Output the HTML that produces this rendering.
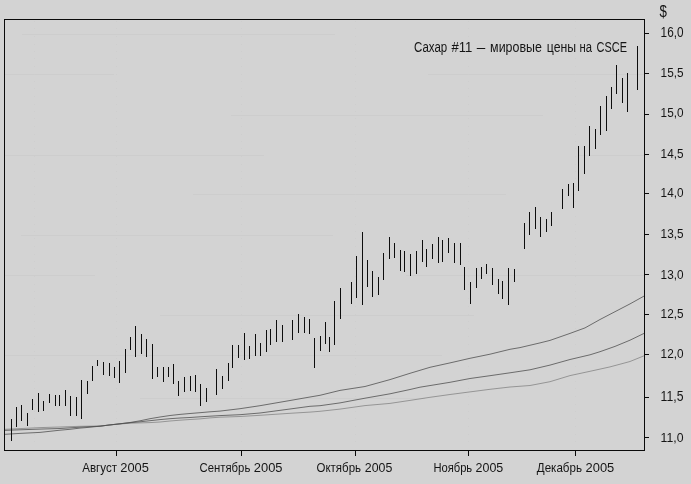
<!DOCTYPE html>
<html><head><meta charset="utf-8"><title>chart</title>
<style>
html,body{margin:0;padding:0;background:#d3d3d3;}
body{width:691px;height:484px;overflow:hidden;}
svg{display:block;font-family:"Liberation Sans",sans-serif;will-change:transform;}
</style></head><body>
<svg width="691" height="484" viewBox="0 0 691 484">
<rect x="0" y="0" width="691" height="484" fill="#d3d3d3"/>
<g fill="#cdcdcd" shape-rendering="crispEdges">
<rect x="22" y="34" width="313" height="1"/>
<rect x="5" y="74" width="109" height="1"/>
<rect x="428" y="74" width="216" height="1"/>
<rect x="231" y="115" width="312" height="1"/>
<rect x="5" y="155" width="259" height="1"/>
<rect x="578" y="155" width="66" height="1"/>
<rect x="193" y="194" width="313" height="1"/>
<rect x="21" y="235" width="312" height="1"/>
<rect x="5" y="275" width="90" height="1"/>
<rect x="406" y="275" width="238" height="1"/>
<rect x="160" y="315" width="314" height="1"/>
<rect x="5" y="355" width="437" height="1"/>
<rect x="140" y="398" width="285" height="1"/>
</g>
<g fill="#cecece" shape-rendering="crispEdges">
<rect x="34" y="21" width="1" height="1"/>
<rect x="34" y="28" width="1" height="1"/>
<rect x="34" y="36" width="1" height="1"/>
<rect x="34" y="44" width="1" height="1"/>
<rect x="34" y="51" width="1" height="1"/>
<rect x="34" y="58" width="1" height="1"/>
<rect x="34" y="66" width="1" height="1"/>
<rect x="34" y="74" width="1" height="1"/>
<rect x="34" y="81" width="1" height="1"/>
<rect x="34" y="88" width="1" height="1"/>
<rect x="34" y="96" width="1" height="1"/>
<rect x="34" y="104" width="1" height="1"/>
<rect x="34" y="111" width="1" height="1"/>
<rect x="34" y="118" width="1" height="1"/>
<rect x="34" y="126" width="1" height="1"/>
<rect x="34" y="134" width="1" height="1"/>
<rect x="34" y="141" width="1" height="1"/>
<rect x="34" y="148" width="1" height="1"/>
<rect x="34" y="156" width="1" height="1"/>
<rect x="34" y="164" width="1" height="1"/>
<rect x="34" y="171" width="1" height="1"/>
<rect x="34" y="178" width="1" height="1"/>
<rect x="34" y="186" width="1" height="1"/>
<rect x="34" y="194" width="1" height="1"/>
<rect x="34" y="201" width="1" height="1"/>
<rect x="34" y="208" width="1" height="1"/>
<rect x="34" y="216" width="1" height="1"/>
<rect x="34" y="224" width="1" height="1"/>
<rect x="34" y="231" width="1" height="1"/>
<rect x="34" y="238" width="1" height="1"/>
<rect x="34" y="246" width="1" height="1"/>
<rect x="34" y="254" width="1" height="1"/>
<rect x="34" y="261" width="1" height="1"/>
<rect x="34" y="268" width="1" height="1"/>
<rect x="34" y="276" width="1" height="1"/>
<rect x="34" y="284" width="1" height="1"/>
<rect x="34" y="291" width="1" height="1"/>
<rect x="34" y="298" width="1" height="1"/>
<rect x="34" y="306" width="1" height="1"/>
<rect x="34" y="314" width="1" height="1"/>
<rect x="34" y="321" width="1" height="1"/>
<rect x="34" y="328" width="1" height="1"/>
<rect x="34" y="336" width="1" height="1"/>
<rect x="34" y="344" width="1" height="1"/>
<rect x="34" y="351" width="1" height="1"/>
<rect x="34" y="358" width="1" height="1"/>
<rect x="34" y="366" width="1" height="1"/>
<rect x="34" y="374" width="1" height="1"/>
<rect x="34" y="381" width="1" height="1"/>
<rect x="34" y="388" width="1" height="1"/>
<rect x="34" y="396" width="1" height="1"/>
<rect x="34" y="404" width="1" height="1"/>
<rect x="34" y="411" width="1" height="1"/>
<rect x="34" y="418" width="1" height="1"/>
<rect x="34" y="426" width="1" height="1"/>
<rect x="34" y="434" width="1" height="1"/>
<rect x="34" y="441" width="1" height="1"/>
<rect x="116" y="21" width="1" height="1"/>
<rect x="116" y="28" width="1" height="1"/>
<rect x="116" y="36" width="1" height="1"/>
<rect x="116" y="44" width="1" height="1"/>
<rect x="116" y="51" width="1" height="1"/>
<rect x="116" y="58" width="1" height="1"/>
<rect x="116" y="66" width="1" height="1"/>
<rect x="116" y="74" width="1" height="1"/>
<rect x="116" y="81" width="1" height="1"/>
<rect x="116" y="88" width="1" height="1"/>
<rect x="116" y="96" width="1" height="1"/>
<rect x="116" y="104" width="1" height="1"/>
<rect x="116" y="111" width="1" height="1"/>
<rect x="116" y="118" width="1" height="1"/>
<rect x="116" y="126" width="1" height="1"/>
<rect x="116" y="134" width="1" height="1"/>
<rect x="116" y="141" width="1" height="1"/>
<rect x="116" y="148" width="1" height="1"/>
<rect x="116" y="156" width="1" height="1"/>
<rect x="116" y="164" width="1" height="1"/>
<rect x="116" y="171" width="1" height="1"/>
<rect x="116" y="178" width="1" height="1"/>
<rect x="116" y="186" width="1" height="1"/>
<rect x="116" y="194" width="1" height="1"/>
<rect x="116" y="201" width="1" height="1"/>
<rect x="116" y="208" width="1" height="1"/>
<rect x="116" y="216" width="1" height="1"/>
<rect x="116" y="224" width="1" height="1"/>
<rect x="116" y="231" width="1" height="1"/>
<rect x="116" y="238" width="1" height="1"/>
<rect x="116" y="246" width="1" height="1"/>
<rect x="116" y="254" width="1" height="1"/>
<rect x="116" y="261" width="1" height="1"/>
<rect x="116" y="268" width="1" height="1"/>
<rect x="116" y="276" width="1" height="1"/>
<rect x="116" y="284" width="1" height="1"/>
<rect x="116" y="291" width="1" height="1"/>
<rect x="116" y="298" width="1" height="1"/>
<rect x="116" y="306" width="1" height="1"/>
<rect x="116" y="314" width="1" height="1"/>
<rect x="116" y="321" width="1" height="1"/>
<rect x="116" y="328" width="1" height="1"/>
<rect x="116" y="336" width="1" height="1"/>
<rect x="116" y="344" width="1" height="1"/>
<rect x="116" y="351" width="1" height="1"/>
<rect x="116" y="358" width="1" height="1"/>
<rect x="116" y="366" width="1" height="1"/>
<rect x="116" y="374" width="1" height="1"/>
<rect x="116" y="381" width="1" height="1"/>
<rect x="116" y="388" width="1" height="1"/>
<rect x="116" y="396" width="1" height="1"/>
<rect x="116" y="404" width="1" height="1"/>
<rect x="116" y="411" width="1" height="1"/>
<rect x="116" y="418" width="1" height="1"/>
<rect x="116" y="426" width="1" height="1"/>
<rect x="116" y="434" width="1" height="1"/>
<rect x="116" y="441" width="1" height="1"/>
<rect x="241" y="21" width="1" height="1"/>
<rect x="241" y="28" width="1" height="1"/>
<rect x="241" y="36" width="1" height="1"/>
<rect x="241" y="44" width="1" height="1"/>
<rect x="241" y="51" width="1" height="1"/>
<rect x="241" y="58" width="1" height="1"/>
<rect x="241" y="66" width="1" height="1"/>
<rect x="241" y="74" width="1" height="1"/>
<rect x="241" y="81" width="1" height="1"/>
<rect x="241" y="88" width="1" height="1"/>
<rect x="241" y="96" width="1" height="1"/>
<rect x="241" y="104" width="1" height="1"/>
<rect x="241" y="111" width="1" height="1"/>
<rect x="241" y="118" width="1" height="1"/>
<rect x="241" y="126" width="1" height="1"/>
<rect x="241" y="134" width="1" height="1"/>
<rect x="241" y="141" width="1" height="1"/>
<rect x="241" y="148" width="1" height="1"/>
<rect x="241" y="156" width="1" height="1"/>
<rect x="241" y="164" width="1" height="1"/>
<rect x="241" y="171" width="1" height="1"/>
<rect x="241" y="178" width="1" height="1"/>
<rect x="241" y="186" width="1" height="1"/>
<rect x="241" y="194" width="1" height="1"/>
<rect x="241" y="201" width="1" height="1"/>
<rect x="241" y="208" width="1" height="1"/>
<rect x="241" y="216" width="1" height="1"/>
<rect x="241" y="224" width="1" height="1"/>
<rect x="241" y="231" width="1" height="1"/>
<rect x="241" y="238" width="1" height="1"/>
<rect x="241" y="246" width="1" height="1"/>
<rect x="241" y="254" width="1" height="1"/>
<rect x="241" y="261" width="1" height="1"/>
<rect x="241" y="268" width="1" height="1"/>
<rect x="241" y="276" width="1" height="1"/>
<rect x="241" y="284" width="1" height="1"/>
<rect x="241" y="291" width="1" height="1"/>
<rect x="241" y="298" width="1" height="1"/>
<rect x="241" y="306" width="1" height="1"/>
<rect x="241" y="314" width="1" height="1"/>
<rect x="241" y="321" width="1" height="1"/>
<rect x="241" y="328" width="1" height="1"/>
<rect x="241" y="336" width="1" height="1"/>
<rect x="241" y="344" width="1" height="1"/>
<rect x="241" y="351" width="1" height="1"/>
<rect x="241" y="358" width="1" height="1"/>
<rect x="241" y="366" width="1" height="1"/>
<rect x="241" y="374" width="1" height="1"/>
<rect x="241" y="381" width="1" height="1"/>
<rect x="241" y="388" width="1" height="1"/>
<rect x="241" y="396" width="1" height="1"/>
<rect x="241" y="404" width="1" height="1"/>
<rect x="241" y="411" width="1" height="1"/>
<rect x="241" y="418" width="1" height="1"/>
<rect x="241" y="426" width="1" height="1"/>
<rect x="241" y="434" width="1" height="1"/>
<rect x="241" y="441" width="1" height="1"/>
<rect x="355" y="21" width="1" height="1"/>
<rect x="355" y="28" width="1" height="1"/>
<rect x="355" y="36" width="1" height="1"/>
<rect x="355" y="44" width="1" height="1"/>
<rect x="355" y="51" width="1" height="1"/>
<rect x="355" y="58" width="1" height="1"/>
<rect x="355" y="66" width="1" height="1"/>
<rect x="355" y="74" width="1" height="1"/>
<rect x="355" y="81" width="1" height="1"/>
<rect x="355" y="88" width="1" height="1"/>
<rect x="355" y="96" width="1" height="1"/>
<rect x="355" y="104" width="1" height="1"/>
<rect x="355" y="111" width="1" height="1"/>
<rect x="355" y="118" width="1" height="1"/>
<rect x="355" y="126" width="1" height="1"/>
<rect x="355" y="134" width="1" height="1"/>
<rect x="355" y="141" width="1" height="1"/>
<rect x="355" y="148" width="1" height="1"/>
<rect x="355" y="156" width="1" height="1"/>
<rect x="355" y="164" width="1" height="1"/>
<rect x="355" y="171" width="1" height="1"/>
<rect x="355" y="178" width="1" height="1"/>
<rect x="355" y="186" width="1" height="1"/>
<rect x="355" y="194" width="1" height="1"/>
<rect x="355" y="201" width="1" height="1"/>
<rect x="355" y="208" width="1" height="1"/>
<rect x="355" y="216" width="1" height="1"/>
<rect x="355" y="224" width="1" height="1"/>
<rect x="355" y="231" width="1" height="1"/>
<rect x="355" y="238" width="1" height="1"/>
<rect x="355" y="246" width="1" height="1"/>
<rect x="355" y="254" width="1" height="1"/>
<rect x="355" y="261" width="1" height="1"/>
<rect x="355" y="268" width="1" height="1"/>
<rect x="355" y="276" width="1" height="1"/>
<rect x="355" y="284" width="1" height="1"/>
<rect x="355" y="291" width="1" height="1"/>
<rect x="355" y="298" width="1" height="1"/>
<rect x="355" y="306" width="1" height="1"/>
<rect x="355" y="314" width="1" height="1"/>
<rect x="355" y="321" width="1" height="1"/>
<rect x="355" y="328" width="1" height="1"/>
<rect x="355" y="336" width="1" height="1"/>
<rect x="355" y="344" width="1" height="1"/>
<rect x="355" y="351" width="1" height="1"/>
<rect x="355" y="358" width="1" height="1"/>
<rect x="355" y="366" width="1" height="1"/>
<rect x="355" y="374" width="1" height="1"/>
<rect x="355" y="381" width="1" height="1"/>
<rect x="355" y="388" width="1" height="1"/>
<rect x="355" y="396" width="1" height="1"/>
<rect x="355" y="404" width="1" height="1"/>
<rect x="355" y="411" width="1" height="1"/>
<rect x="355" y="418" width="1" height="1"/>
<rect x="355" y="426" width="1" height="1"/>
<rect x="355" y="434" width="1" height="1"/>
<rect x="355" y="441" width="1" height="1"/>
<rect x="468" y="21" width="1" height="1"/>
<rect x="468" y="28" width="1" height="1"/>
<rect x="468" y="36" width="1" height="1"/>
<rect x="468" y="44" width="1" height="1"/>
<rect x="468" y="51" width="1" height="1"/>
<rect x="468" y="58" width="1" height="1"/>
<rect x="468" y="66" width="1" height="1"/>
<rect x="468" y="74" width="1" height="1"/>
<rect x="468" y="81" width="1" height="1"/>
<rect x="468" y="88" width="1" height="1"/>
<rect x="468" y="96" width="1" height="1"/>
<rect x="468" y="104" width="1" height="1"/>
<rect x="468" y="111" width="1" height="1"/>
<rect x="468" y="118" width="1" height="1"/>
<rect x="468" y="126" width="1" height="1"/>
<rect x="468" y="134" width="1" height="1"/>
<rect x="468" y="141" width="1" height="1"/>
<rect x="468" y="148" width="1" height="1"/>
<rect x="468" y="156" width="1" height="1"/>
<rect x="468" y="164" width="1" height="1"/>
<rect x="468" y="171" width="1" height="1"/>
<rect x="468" y="178" width="1" height="1"/>
<rect x="468" y="186" width="1" height="1"/>
<rect x="468" y="194" width="1" height="1"/>
<rect x="468" y="201" width="1" height="1"/>
<rect x="468" y="208" width="1" height="1"/>
<rect x="468" y="216" width="1" height="1"/>
<rect x="468" y="224" width="1" height="1"/>
<rect x="468" y="231" width="1" height="1"/>
<rect x="468" y="238" width="1" height="1"/>
<rect x="468" y="246" width="1" height="1"/>
<rect x="468" y="254" width="1" height="1"/>
<rect x="468" y="261" width="1" height="1"/>
<rect x="468" y="268" width="1" height="1"/>
<rect x="468" y="276" width="1" height="1"/>
<rect x="468" y="284" width="1" height="1"/>
<rect x="468" y="291" width="1" height="1"/>
<rect x="468" y="298" width="1" height="1"/>
<rect x="468" y="306" width="1" height="1"/>
<rect x="468" y="314" width="1" height="1"/>
<rect x="468" y="321" width="1" height="1"/>
<rect x="468" y="328" width="1" height="1"/>
<rect x="468" y="336" width="1" height="1"/>
<rect x="468" y="344" width="1" height="1"/>
<rect x="468" y="351" width="1" height="1"/>
<rect x="468" y="358" width="1" height="1"/>
<rect x="468" y="366" width="1" height="1"/>
<rect x="468" y="374" width="1" height="1"/>
<rect x="468" y="381" width="1" height="1"/>
<rect x="468" y="388" width="1" height="1"/>
<rect x="468" y="396" width="1" height="1"/>
<rect x="468" y="404" width="1" height="1"/>
<rect x="468" y="411" width="1" height="1"/>
<rect x="468" y="418" width="1" height="1"/>
<rect x="468" y="426" width="1" height="1"/>
<rect x="468" y="434" width="1" height="1"/>
<rect x="468" y="441" width="1" height="1"/>
<rect x="575" y="21" width="1" height="1"/>
<rect x="575" y="28" width="1" height="1"/>
<rect x="575" y="36" width="1" height="1"/>
<rect x="575" y="44" width="1" height="1"/>
<rect x="575" y="51" width="1" height="1"/>
<rect x="575" y="58" width="1" height="1"/>
<rect x="575" y="66" width="1" height="1"/>
<rect x="575" y="74" width="1" height="1"/>
<rect x="575" y="81" width="1" height="1"/>
<rect x="575" y="88" width="1" height="1"/>
<rect x="575" y="96" width="1" height="1"/>
<rect x="575" y="104" width="1" height="1"/>
<rect x="575" y="111" width="1" height="1"/>
<rect x="575" y="118" width="1" height="1"/>
<rect x="575" y="126" width="1" height="1"/>
<rect x="575" y="134" width="1" height="1"/>
<rect x="575" y="141" width="1" height="1"/>
<rect x="575" y="148" width="1" height="1"/>
<rect x="575" y="156" width="1" height="1"/>
<rect x="575" y="164" width="1" height="1"/>
<rect x="575" y="171" width="1" height="1"/>
<rect x="575" y="178" width="1" height="1"/>
<rect x="575" y="186" width="1" height="1"/>
<rect x="575" y="194" width="1" height="1"/>
<rect x="575" y="201" width="1" height="1"/>
<rect x="575" y="208" width="1" height="1"/>
<rect x="575" y="216" width="1" height="1"/>
<rect x="575" y="224" width="1" height="1"/>
<rect x="575" y="231" width="1" height="1"/>
<rect x="575" y="238" width="1" height="1"/>
<rect x="575" y="246" width="1" height="1"/>
<rect x="575" y="254" width="1" height="1"/>
<rect x="575" y="261" width="1" height="1"/>
<rect x="575" y="268" width="1" height="1"/>
<rect x="575" y="276" width="1" height="1"/>
<rect x="575" y="284" width="1" height="1"/>
<rect x="575" y="291" width="1" height="1"/>
<rect x="575" y="298" width="1" height="1"/>
<rect x="575" y="306" width="1" height="1"/>
<rect x="575" y="314" width="1" height="1"/>
<rect x="575" y="321" width="1" height="1"/>
<rect x="575" y="328" width="1" height="1"/>
<rect x="575" y="336" width="1" height="1"/>
<rect x="575" y="344" width="1" height="1"/>
<rect x="575" y="351" width="1" height="1"/>
<rect x="575" y="358" width="1" height="1"/>
<rect x="575" y="366" width="1" height="1"/>
<rect x="575" y="374" width="1" height="1"/>
<rect x="575" y="381" width="1" height="1"/>
<rect x="575" y="388" width="1" height="1"/>
<rect x="575" y="396" width="1" height="1"/>
<rect x="575" y="404" width="1" height="1"/>
<rect x="575" y="411" width="1" height="1"/>
<rect x="575" y="418" width="1" height="1"/>
<rect x="575" y="426" width="1" height="1"/>
<rect x="575" y="434" width="1" height="1"/>
<rect x="575" y="441" width="1" height="1"/>
</g>
<polyline points="5,429.3 20,428.6 40,427.6 60,427 80,426.3 100,426.0 110,425.0 120,424.0 130,423.2 140,422.9 150,422.6 160,422.0 170,421 180,420.2 190,419.5 200,418.9 210,417.9 220,417.2 240,416.5 260,415.3 290,413.3 310,412.1 320,411.3 340,409.1 365,405.6 390,403.4 410,400.4 430,397.3 450,394.5 470,391.9 490,389.3 510,387 530,385.5 550,381.7 570,375.6 590,371.3 610,366.9 630,361.5 644,355.8" fill="none" stroke="#808080" stroke-width="0.75"/>
<polyline points="5,430.4 20,429.8 40,429.1 60,428.5 80,427.2 100,426.2 110,424.9 120,423.8 130,422.7 140,421.8 150,420.7 160,419.6 170,418.7 180,418.0 190,417.5 200,416.8 210,416.2 220,415.6 240,414.7 260,413 290,409 310,406.3 320,405.7 340,402.9 365,398.2 390,393.8 410,389.5 420,387.2 450,382.3 470,378.5 490,375.7 510,372.8 530,369.8 550,365.1 570,359.5 590,354.8 600,351.7 615,346.4 630,340.2 644,333.4" fill="none" stroke="#484848" stroke-width="0.75"/>
<polyline points="5,434.3 20,433.4 40,432.4 60,430.2 70,429.3 80,428.1 85,427.7 100,426.2 110,424.9 120,423.75 130,422.5 140,420.8 150,418.7 160,417 170,415.5 180,414.4 190,413.5 200,412.7 210,411.8 220,411.1 240,408.7 260,405.7 290,400.5 310,397 320,395.3 340,390.4 365,386.5 390,379.6 410,373.3 430,367.3 450,362.9 470,358.3 490,354.2 510,349.3 520,347.6 540,342.9 550,340.4 570,333.4 585,327.9 600,319.5 615,311.7 630,303.9 644,296.1" fill="none" stroke="#505050" stroke-width="0.8"/>
<g fill="#0a0a0a" shape-rendering="crispEdges">
<rect x="4" y="19" width="641" height="1"/>
<rect x="4" y="19" width="1" height="432"/>
<rect x="644" y="19" width="1" height="432"/>
<rect x="4" y="450" width="641" height="1"/>
<rect x="645" y="33" width="4" height="1"/>
<rect x="645" y="73" width="4" height="1"/>
<rect x="645" y="114" width="4" height="1"/>
<rect x="645" y="154" width="4" height="1"/>
<rect x="645" y="193" width="4" height="1"/>
<rect x="645" y="234" width="4" height="1"/>
<rect x="645" y="274" width="4" height="1"/>
<rect x="645" y="314" width="4" height="1"/>
<rect x="645" y="354" width="4" height="1"/>
<rect x="645" y="397" width="4" height="1"/>
<rect x="645" y="437" width="4" height="1"/>
<rect x="116" y="451" width="1" height="5"/>
<rect x="241" y="451" width="1" height="5"/>
<rect x="355" y="451" width="1" height="5"/>
<rect x="468" y="451" width="1" height="5"/>
<rect x="575" y="451" width="1" height="5"/>
</g>
<g fill="#0d0d0d" shape-rendering="crispEdges">
<rect x="11" y="419" width="1" height="22"/>
<rect x="16" y="407" width="1" height="20"/>
<rect x="21" y="405" width="1" height="16"/>
<rect x="27" y="413" width="1" height="13"/>
<rect x="32" y="399" width="1" height="11"/>
<rect x="38" y="393" width="1" height="19"/>
<rect x="43" y="401" width="1" height="10"/>
<rect x="49" y="394" width="1" height="9"/>
<rect x="55" y="395" width="1" height="11"/>
<rect x="59" y="395" width="1" height="11"/>
<rect x="65" y="390" width="1" height="16"/>
<rect x="70" y="396" width="1" height="20"/>
<rect x="76" y="397" width="1" height="19"/>
<rect x="81" y="380" width="1" height="39"/>
<rect x="87" y="381" width="1" height="13"/>
<rect x="92" y="366" width="1" height="15"/>
<rect x="97" y="360" width="1" height="6"/>
<rect x="103" y="362" width="1" height="13"/>
<rect x="109" y="363" width="1" height="13"/>
<rect x="114" y="367" width="1" height="11"/>
<rect x="119" y="361" width="1" height="22"/>
<rect x="125" y="349" width="1" height="24"/>
<rect x="130" y="337" width="1" height="13"/>
<rect x="135" y="326" width="1" height="31"/>
<rect x="141" y="334" width="1" height="20"/>
<rect x="146" y="339" width="1" height="18"/>
<rect x="152" y="344" width="1" height="35"/>
<rect x="157" y="367" width="1" height="10"/>
<rect x="163" y="367" width="1" height="15"/>
<rect x="168" y="367" width="1" height="10"/>
<rect x="173" y="364" width="1" height="20"/>
<rect x="178" y="381" width="1" height="15"/>
<rect x="184" y="377" width="1" height="15"/>
<rect x="190" y="376" width="1" height="15"/>
<rect x="195" y="375" width="1" height="17"/>
<rect x="200" y="384" width="1" height="22"/>
<rect x="206" y="388" width="1" height="14"/>
<rect x="216" y="369" width="1" height="26"/>
<rect x="222" y="376" width="1" height="13"/>
<rect x="228" y="363" width="1" height="18"/>
<rect x="232" y="345" width="1" height="23"/>
<rect x="238" y="345" width="1" height="13"/>
<rect x="244" y="333" width="1" height="27"/>
<rect x="249" y="346" width="1" height="13"/>
<rect x="255" y="334" width="1" height="22"/>
<rect x="260" y="343" width="1" height="13"/>
<rect x="266" y="330" width="1" height="22"/>
<rect x="270" y="329" width="1" height="16"/>
<rect x="276" y="320" width="1" height="22"/>
<rect x="282" y="325" width="1" height="17"/>
<rect x="292" y="320" width="1" height="20"/>
<rect x="298" y="314" width="1" height="19"/>
<rect x="304" y="317" width="1" height="16"/>
<rect x="309" y="319" width="1" height="15"/>
<rect x="314" y="338" width="1" height="30"/>
<rect x="320" y="336" width="1" height="15"/>
<rect x="325" y="322" width="1" height="22"/>
<rect x="329" y="337" width="1" height="15"/>
<rect x="334" y="301" width="1" height="44"/>
<rect x="340" y="288" width="1" height="31"/>
<rect x="351" y="282" width="1" height="22"/>
<rect x="356" y="256" width="1" height="42"/>
<rect x="362" y="232" width="1" height="73"/>
<rect x="367" y="260" width="1" height="27"/>
<rect x="372" y="271" width="1" height="26"/>
<rect x="378" y="277" width="1" height="18"/>
<rect x="383" y="253" width="1" height="27"/>
<rect x="389" y="237" width="1" height="22"/>
<rect x="394" y="243" width="1" height="15"/>
<rect x="400" y="250" width="1" height="21"/>
<rect x="404" y="251" width="1" height="21"/>
<rect x="410" y="254" width="1" height="22"/>
<rect x="416" y="251" width="1" height="23"/>
<rect x="422" y="240" width="1" height="22"/>
<rect x="426" y="249" width="1" height="18"/>
<rect x="432" y="244" width="1" height="15"/>
<rect x="438" y="237" width="1" height="26"/>
<rect x="442" y="240" width="1" height="22"/>
<rect x="448" y="238" width="1" height="15"/>
<rect x="454" y="243" width="1" height="20"/>
<rect x="460" y="243" width="1" height="22"/>
<rect x="464" y="267" width="1" height="23"/>
<rect x="470" y="282" width="1" height="22"/>
<rect x="476" y="268" width="1" height="20"/>
<rect x="481" y="267" width="1" height="12"/>
<rect x="486" y="264" width="1" height="10"/>
<rect x="492" y="268" width="1" height="17"/>
<rect x="498" y="279" width="1" height="15"/>
<rect x="502" y="281" width="1" height="18"/>
<rect x="508" y="268" width="1" height="37"/>
<rect x="514" y="269" width="1" height="13"/>
<rect x="524" y="223" width="1" height="26"/>
<rect x="529" y="212" width="1" height="23"/>
<rect x="535" y="207" width="1" height="22"/>
<rect x="540" y="217" width="1" height="20"/>
<rect x="546" y="219" width="1" height="13"/>
<rect x="551" y="212" width="1" height="14"/>
<rect x="562" y="189" width="1" height="20"/>
<rect x="568" y="184" width="1" height="12"/>
<rect x="573" y="183" width="1" height="25"/>
<rect x="578" y="146" width="1" height="45"/>
<rect x="584" y="146" width="1" height="28"/>
<rect x="589" y="126" width="1" height="30"/>
<rect x="595" y="129" width="1" height="20"/>
<rect x="600" y="106" width="1" height="29"/>
<rect x="606" y="96" width="1" height="35"/>
<rect x="611" y="87" width="1" height="22"/>
<rect x="616" y="65" width="1" height="29"/>
<rect x="622" y="78" width="1" height="25"/>
<rect x="627" y="73" width="1" height="39"/>
<rect x="637" y="46" width="1" height="44"/>
</g>
<g fill="#151515" font-size="13px">
<text x="660.6" y="37.1" font-size="14.57px" textLength="22.9" lengthAdjust="spacingAndGlyphs">16,0</text>
<text x="660.6" y="76.9" font-size="13.43px" textLength="22.9" lengthAdjust="spacingAndGlyphs">15,5</text>
<text x="660.6" y="117.0" font-size="12.71px" textLength="22.9" lengthAdjust="spacingAndGlyphs">15,0</text>
<text x="660.6" y="158.0" font-size="12.86px" textLength="22.9" lengthAdjust="spacingAndGlyphs">14,5</text>
<text x="660.6" y="196.9" font-size="12.29px" textLength="22.9" lengthAdjust="spacingAndGlyphs">14,0</text>
<text x="660.6" y="238.0" font-size="12.86px" textLength="22.9" lengthAdjust="spacingAndGlyphs">13,5</text>
<text x="660.6" y="278.8" font-size="12.57px" textLength="22.9" lengthAdjust="spacingAndGlyphs">13,0</text>
<text x="660.6" y="318.0" font-size="12.86px" textLength="22.9" lengthAdjust="spacingAndGlyphs">12,5</text>
<text x="660.6" y="357.8" font-size="13.00px" textLength="22.9" lengthAdjust="spacingAndGlyphs">12,0</text>
<text x="660.6" y="400.6" font-size="14.00px" textLength="22.9" lengthAdjust="spacingAndGlyphs">11,5</text>
<text x="660.6" y="441.7" font-size="13.57px" textLength="22.9" lengthAdjust="spacingAndGlyphs">11,0</text>
<text x="82.2" y="472.2" textLength="34.8" lengthAdjust="spacingAndGlyphs">Август</text>
<text x="120.3" y="472.2" textLength="28.6" lengthAdjust="spacingAndGlyphs">2005</text>
<text x="199.6" y="472.2" textLength="50.7" lengthAdjust="spacingAndGlyphs">Сентябрь</text>
<text x="253.8" y="472.2" textLength="28.7" lengthAdjust="spacingAndGlyphs">2005</text>
<text x="316.5" y="472.2" textLength="44.5" lengthAdjust="spacingAndGlyphs">Октябрь</text>
<text x="364.8" y="472.2" textLength="27.5" lengthAdjust="spacingAndGlyphs">2005</text>
<text x="433.4" y="472.2" textLength="38.8" lengthAdjust="spacingAndGlyphs">Ноябрь</text>
<text x="475.6" y="472.2" textLength="27.7" lengthAdjust="spacingAndGlyphs">2005</text>
<text x="536.8" y="472.2" textLength="45.2" lengthAdjust="spacingAndGlyphs">Декабрь</text>
<text x="585.6" y="472.2" textLength="28.7" lengthAdjust="spacingAndGlyphs">2005</text>
<text x="659.6" y="16.9" font-size="17.2px" textLength="7.4" lengthAdjust="spacingAndGlyphs">$</text>
<text x="414.0" y="52.2" font-size="15.3px" textLength="33.2" lengthAdjust="spacingAndGlyphs">Сахар</text>
<text x="451.5" y="52.2" font-size="15.3px" textLength="20.9" lengthAdjust="spacingAndGlyphs">#11</text>
<text x="476.7" y="52.2" font-size="15.3px" textLength="8.5" lengthAdjust="spacingAndGlyphs">–</text>
<text x="490.1" y="52.2" font-size="15.3px" textLength="51.8" lengthAdjust="spacingAndGlyphs">мировые</text>
<text x="546.8" y="52.2" font-size="15.3px" textLength="29.3" lengthAdjust="spacingAndGlyphs">цены</text>
<text x="579.6" y="52.2" font-size="15.3px" textLength="12.5" lengthAdjust="spacingAndGlyphs">на</text>
<text x="596.6" y="52.2" font-size="15.3px" textLength="30.4" lengthAdjust="spacingAndGlyphs">CSCE</text>
</g>
</svg></body></html>
